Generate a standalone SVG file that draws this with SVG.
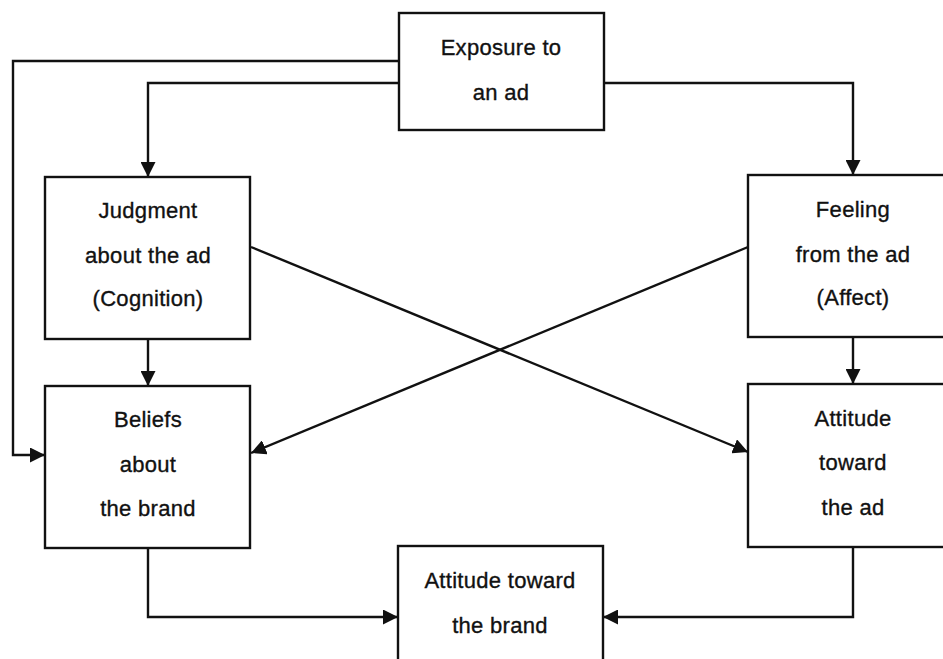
<svg xmlns="http://www.w3.org/2000/svg" width="943" height="659" viewBox="0 0 943 659">
<style>
.box{fill:#fff;stroke:#111;stroke-width:2.4}
.lbl{font-family:"Liberation Sans",Arial,sans-serif;font-size:22px;fill:#111;stroke:#111;stroke-width:0.35;text-anchor:middle;letter-spacing:0.3px}
.con{fill:none;stroke:#111;stroke-width:2.4}
</style>
<defs>
<marker id="ah" viewBox="0 0 15 15" refX="15" refY="7.5" markerWidth="15" markerHeight="15" markerUnits="userSpaceOnUse" orient="auto">
<path d="M0,0 L15,7.5 L0,15 Z" fill="#111"/>
</marker>
</defs>
<rect width="943" height="659" fill="#fff"/>
<g id="connectors">
<path class="con" d="M399,61 H13 V455 H45" marker-end="url(#ah)"/>
<path class="con" d="M399,83 H148 V177" marker-end="url(#ah)"/>
<path class="con" d="M604,83 H853 V175" marker-end="url(#ah)"/>
<path class="con" d="M148,339 V386" marker-end="url(#ah)"/>
<path class="con" d="M853,337 V384" marker-end="url(#ah)"/>
<path class="con" d="M251,247 L748,452" marker-end="url(#ah)"/>
<path class="con" d="M748,247 L251,453" marker-end="url(#ah)"/>
<path class="con" d="M148,548 V617 H398" marker-end="url(#ah)"/>
<path class="con" d="M853,547 V617 H603" marker-end="url(#ah)"/>
</g>
<g id="exposure">
<rect class="box" x="399" y="13" width="205" height="117"/>
<text class="lbl" x="501" y="55">Exposure to</text>
<text class="lbl" x="501" y="100">an ad</text>
</g>
<g id="judgment">
<rect class="box" x="45" y="177" width="205" height="162"/>
<text class="lbl" x="148" y="218">Judgment</text>
<text class="lbl" x="148" y="263">about the ad</text>
<text class="lbl" x="148" y="306">(Cognition)</text>
</g>
<g id="feeling">
<rect class="box" x="748" y="175" width="215" height="162"/>
<text class="lbl" x="853" y="217">Feeling</text>
<text class="lbl" x="853" y="262">from the ad</text>
<text class="lbl" x="853" y="305">(Affect)</text>
</g>
<g id="beliefs">
<rect class="box" x="45" y="386" width="205" height="162"/>
<text class="lbl" x="148" y="427">Beliefs</text>
<text class="lbl" x="148" y="472">about</text>
<text class="lbl" x="148" y="516">the brand</text>
</g>
<g id="attitude-ad">
<rect class="box" x="748" y="384" width="215" height="163"/>
<text class="lbl" x="853" y="426">Attitude</text>
<text class="lbl" x="853" y="470">toward</text>
<text class="lbl" x="853" y="515">the ad</text>
</g>
<g id="attitude-brand">
<rect class="box" x="398" y="546" width="205" height="130"/>
<text class="lbl" x="500" y="588">Attitude toward</text>
<text class="lbl" x="500" y="633">the brand</text>
</g>
</svg>
